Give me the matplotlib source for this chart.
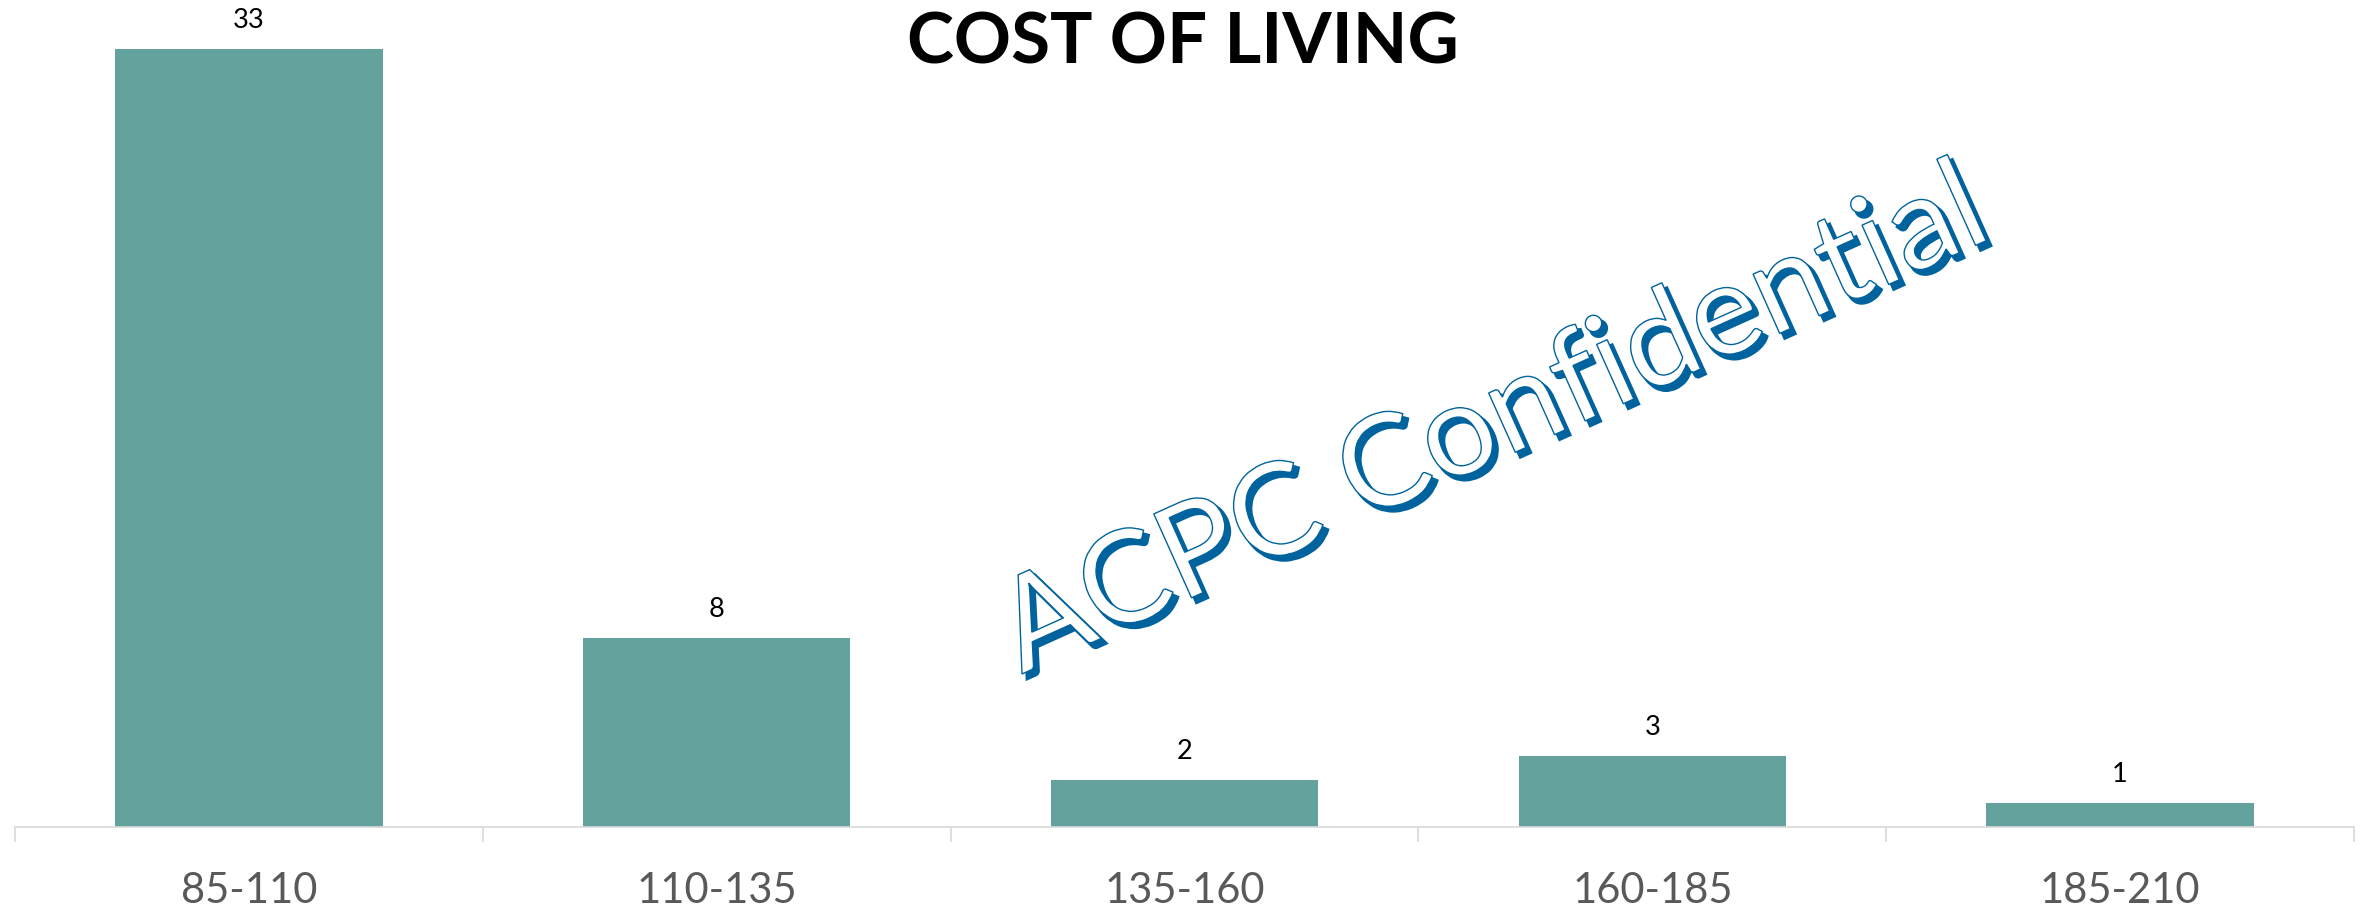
import matplotlib
matplotlib.use("Agg")
import matplotlib.pyplot as plt
from matplotlib.textpath import TextPath
from matplotlib.patches import PathPatch
from matplotlib.font_manager import FontProperties
from matplotlib.transforms import Affine2D

# data
categories = ["85-110", "110-135", "135-160", "160-185", "185-210"]
counts = [33, 8, 2, 3, 1]

title = "COST OF LIVING"
watermark = "ACPC Confidential"

bar_color = "#64A29E"
axis_gray = "#D9D9D9"
label_gray = "#595959"
wm_blue = "#00639E"

plt.rcParams['font.family'] = ['Lato', 'DejaVu Sans']

W, H, DPI = 2374, 912, 100
fig = plt.figure(figsize=(W / DPI, H / DPI), dpi=DPI)
ax = fig.add_axes([15 / W, 84 / H, 2339 / W, 825 / H])

# bars
x = list(range(len(categories)))
ax.bar(x, counts, width=0.572, color=bar_color, zorder=2)
ax.set_xlim(-0.5, len(categories) - 0.5)
ax.set_ylim(0, 35)

# value labels above bars
for xi, v in zip(x, counts):
    ax.annotate(str(v), (xi, v), xytext=(0, 16), textcoords='offset points',
                ha='center', va='baseline', fontsize=19.5, color='black')

# axis styling
for s in ['left', 'right', 'top']:
    ax.spines[s].set_visible(False)
ax.spines['bottom'].set_color(axis_gray)
ax.spines['bottom'].set_linewidth(1.2)
ax.set_yticks([])
ax.set_xticks(x, categories)
ax.set_xticks([i - 0.5 for i in range(len(categories) + 1)], minor=True)
ax.tick_params(axis='x', which='major', length=0, pad=32, labelsize=30, labelcolor=label_gray)
ax.tick_params(axis='x', which='minor', length=10.8, width=1.2, color=axis_gray, direction='out')

# title
fig.text(1183 / W, (H - 64) / H, title, ha='center', va='baseline',
         fontsize=51, fontweight='bold', color='black')

# watermark: outlined text with a blue drop shadow
fp = FontProperties(family="Lato")
tp = TextPath((0, 0), watermark, size=100, prop=fp)
bb = tp.get_extents()
cap_h = TextPath((0, 0), "H", size=100, prop=fp).get_extents().height
sx = 1057 / bb.width
sy = 92 / cap_h
trans = Affine2D().translate(-bb.x0, 0).scale(sx, sy).rotate_deg(24.2).translate(1022, H - 675)
to_fig = Affine2D().scale(1 / W, 1 / H) + fig.transFigure
shadow = trans + Affine2D().translate(5, -5)
fig.add_artist(PathPatch(tp, transform=shadow + to_fig, facecolor=wm_blue,
                         edgecolor=wm_blue, lw=2.0, zorder=5))
fig.add_artist(PathPatch(tp, transform=trans + to_fig, facecolor='white',
                         edgecolor=wm_blue, lw=1.0, zorder=6))

fig.savefig("out.png", dpi=DPI)
